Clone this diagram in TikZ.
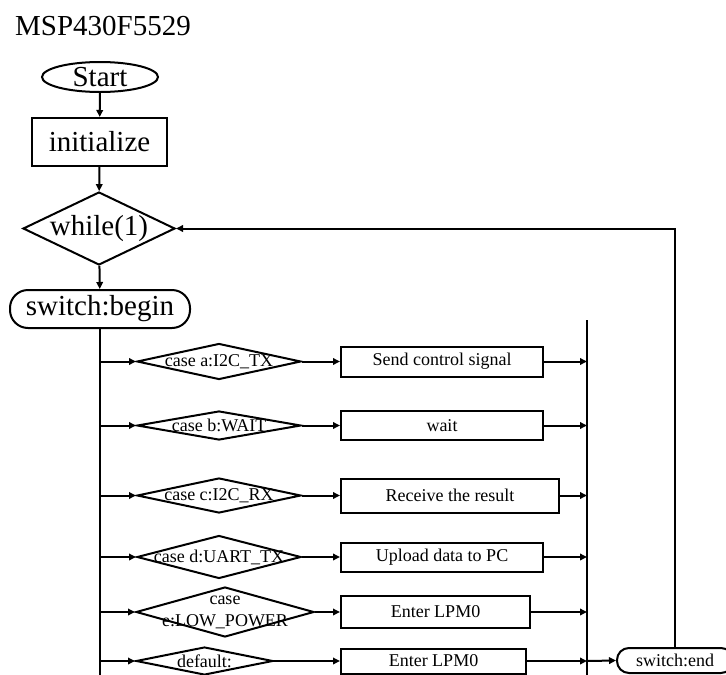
\documentclass[tikz,border=0pt]{standalone}
\usepackage{fontspec}
\setmainfont{Liberation Serif}
\usetikzlibrary{shapes.geometric,arrows.meta}
\begin{document}
\begin{tikzpicture}[x=1pt,y=-1pt,
  ln/.style={line width=2pt},
  arr/.style={ln,-{Triangle[length=7pt,width=6.5pt]}},
  big/.style={font=\fontsize{29}{33}\selectfont},
  small/.style={font=\fontsize{18}{22}\selectfont},
  dia/.style={diamond,draw,line width=2pt,inner sep=0pt},
  box/.style={rectangle,draw,line width=2pt,inner sep=0pt,small},
  term/.style={rectangle,draw,line width=2pt,inner sep=0pt}]
\useasboundingbox (0,0) rectangle (726,675);

\node[big,anchor=base west,inner sep=0pt] (title) at (15,35) {MSP430F5529};

\node[ellipse,draw,line width=2pt,inner sep=0pt,minimum width=116pt,minimum height=30pt,
  label={[big]center:Start}] (start) at (100,77) {};
\node[box,big,minimum width=135pt,minimum height=48pt] (init) at (99.5,142) {initialize};
\node[dia,minimum width=152pt,minimum height=73pt,label={[big]center:while(1)}] (wh) at (99,228.5) {};
\node[term,big,rounded corners=18pt,minimum width=180pt,minimum height=38pt] (sb) at (100,309) {switch:begin};

\draw[arr] (start) -- (init);
\draw[arr] (init) -- (wh);
\draw[arr] (wh) -- (sb);

\coordinate (mainbot) at (100,675);
\draw[ln] (sb.south) -- (mainbot);

\coordinate (ctop) at (587,320);
\coordinate (cbot) at (587,675);
\draw[ln] (ctop) -- (cbot);

% diamonds
\node[dia,minimum width=164pt,minimum height=36pt,label={[small]center:case a:I2C\_TX}] (da) at (219,361.5) {};
\node[dia,minimum width=164pt,minimum height=29pt,label={[small]center:case b:WAIT}] (db) at (219,425.5) {};
\node[dia,minimum width=164pt,minimum height=35pt,label={[small]center:case c:I2C\_RX}] (dc) at (219,495.5) {};
\node[dia,minimum width=164pt,minimum height=43pt,label={[small]center:case d:UART\_TX}] (dd) at (219,557) {};
\node[dia,minimum width=178pt,minimum height=50pt,label={[small,align=center]center:{case\\e:LOW\_POWER}}] (de) at (225,612) {};
\node[dia,minimum width=137pt,minimum height=28pt,label={[small]center:default:}] (df) at (204.5,661) {};

% boxes
\node[box,minimum width=202pt,minimum height=30pt] (ba) at (442,361.5) {Send control signal};
\node[box,minimum width=202pt,minimum height=29pt] (bb) at (442,425.5) {wait};
\node[box,minimum width=218pt,minimum height=34pt] (bc) at (450,495.5) {Receive the result};
\node[box,minimum width=202pt,minimum height=29pt] (bd) at (442,557) {Upload data to PC};
\node[box,minimum width=189pt,minimum height=32pt] (be) at (435.5,612) {Enter LPM0};
\node[box,minimum width=185pt,minimum height=25pt] (bf) at (433.5,661) {Enter LPM0};

\node[term,small,rounded corners=12pt,minimum width=116pt,minimum height=25pt] (se) at (675,660.5) {switch:end};

\foreach \d/\b in {da/ba,db/bb,dc/bc,dd/bd,de/be,df/bf}{
  \draw[arr] (\d.west -| mainbot) -- (\d.west);
  \draw[arr] (\d.east) -- (\b.west);
  \draw[arr] (\b.east) -- (\b.east -| ctop);
}
\draw[arr] (bf.east -| ctop) -- (se.west);
\draw[arr] (se.north) |- (wh.east);
\end{tikzpicture}
\end{document}
